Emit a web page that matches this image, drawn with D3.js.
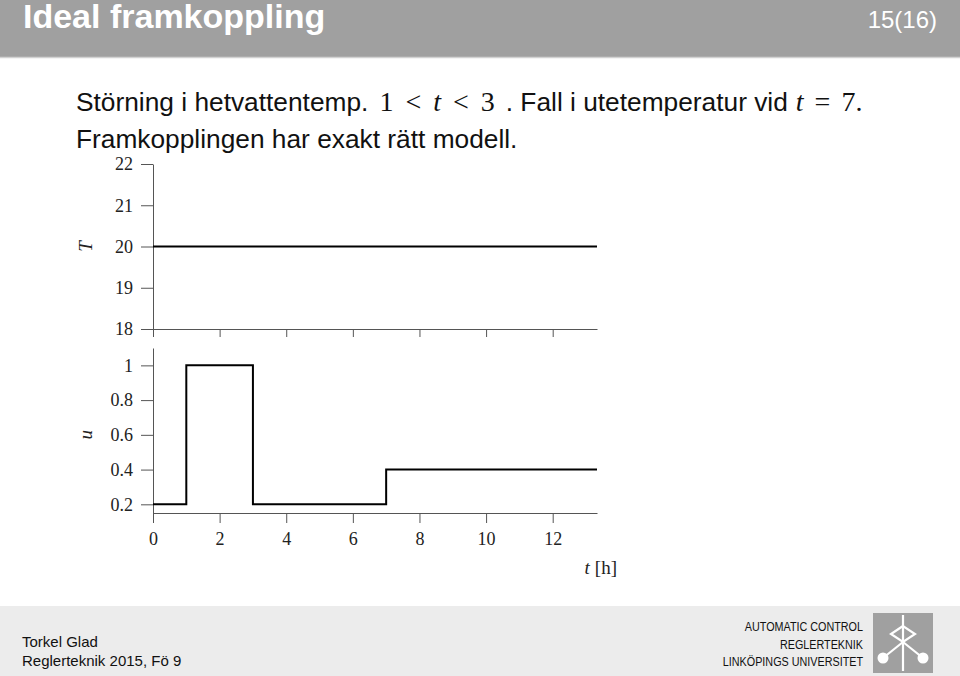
<!DOCTYPE html>
<html>
<head>
<meta charset="utf-8">
<script src="https://cdn.jsdelivr.net/npm/d3@7"></script>
<style>
  body { margin: 0; background: #fff; }
  svg { display: block; }
  .sans { font-family: "Liberation Sans", Arial, sans-serif; }
  .serif { font-family: "Liberation Serif", "Times New Roman", serif; }
  .axis path, .axis line { stroke: #555; stroke-width: 1; }
  .axis text { font-family: "Liberation Serif", serif; font-size: 18px; fill: #222; }
</style>
</head>
<body>
<svg id="chart" width="960" height="676"></svg>
<script>
// time axis (hours)
const tMax = 13.33
const timeTicks = [0, 2, 4, 6, 8, 10, 12]

// upper plot: temperature T
const tempTime = [0, tMax]
const tempValues = [20, 20]
const tempTicks = [18, 19, 20, 21, 22]

// lower plot: control signal u (piecewise constant)
const uTime = [0, 1, 3, 7, tMax]
const uValues = [0.2, 1, 0.2, 0.4, 0.4]
const uTicks = [0.2, 0.4, 0.6, 0.8, 1]

const svg = d3.select('#chart')

// ---- slide frame ----
svg.append('rect').attr('x', 0).attr('y', 0).attr('width', 960).attr('height', 57).attr('fill', '#a0a0a0')
svg.append('line').attr('x1', 0).attr('x2', 960).attr('y1', 57.5).attr('y2', 57.5)
    .attr('stroke', '#d2d2d2').attr('stroke-width', 1.5)
svg.append('text').attr('class', 'sans').attr('x', 23).attr('y', 28)
    .attr('font-size', 34).attr('font-weight', 'bold').attr('fill', '#fff')
    .text('Ideal framkoppling')
svg.append('text').attr('class', 'sans').attr('x', 937).attr('y', 28)
    .attr('font-size', 24).attr('text-anchor', 'end').attr('fill', '#fff')
    .text('15(16)')

svg.append('rect').attr('x', 0).attr('y', 606).attr('width', 960).attr('height', 70).attr('fill', '#ececec')
const foot = svg.append('g').attr('class', 'sans').attr('fill', '#111')
foot.append('text').attr('x', 22).attr('y', 647).attr('font-size', 15).text('Torkel Glad')
foot.append('text').attr('x', 22).attr('y', 666).attr('font-size', 15).text('Reglerteknik 2015, Fö 9')
const orgLines = ['AUTOMATIC CONTROL', 'REGLERTEKNIK', 'LINKÖPINGS UNIVERSITET']
orgLines.forEach((s, i) => {
    foot.append('text').attr('transform', `translate(863,${631 + i * 17.5}) scale(0.83,1)`)
        .attr('font-size', 13).attr('text-anchor', 'end').text(s)
})

// logo
const logo = svg.append('g').attr('transform', 'translate(873,613)')
logo.append('rect').attr('width', 60).attr('height', 60).attr('fill', '#a0a0a0')
const lw = logo.append('g').attr('stroke', '#fff').attr('stroke-width', 2.2).attr('fill', 'none')
lw.append('line').attr('x1', 30).attr('y1', 2).attr('x2', 30).attr('y2', 58)
lw.append('path').attr('d', 'M30,13 L18,21 L30,29 L42,21 Z')
lw.append('line').attr('x1', 30).attr('y1', 29).attr('x2', 10).attr('y2', 45)
lw.append('line').attr('x1', 30).attr('y1', 29).attr('x2', 50).attr('y2', 45)
logo.append('circle').attr('cx', 10).attr('cy', 45).attr('r', 5.5).attr('fill', '#fff')
logo.append('circle').attr('cx', 50).attr('cy', 45).attr('r', 5.5).attr('fill', '#fff')

// ---- description text ----
const line1 = svg.append('text').attr('x', 76).attr('y', 111).attr('fill', '#111')
const mathPart = (dx, s, italic) => line1.append('tspan').attr('class', 'serif').attr('font-size', 28)
    .attr('font-style', italic ? 'italic' : 'normal').attr('dx', dx).text(s)
line1.append('tspan').attr('class', 'sans').attr('font-size', 26.3).text('Störning i hetvattentemp.')
mathPart(11, '1')
mathPart(12, '<')
mathPart(12, 't', true)
mathPart(12, '<')
mathPart(12, '3')
line1.append('tspan').attr('class', 'sans').attr('font-size', 26.3).attr('dx', 11).text('. Fall i utetemperatur vid')
mathPart(8, 't', true)
mathPart(11, '=')
mathPart(11, '7.')

svg.append('text').attr('class', 'sans').attr('x', 76).attr('y', 148)
    .attr('font-size', 26.3).attr('fill', '#111')
    .text('Framkopplingen har exakt rätt modell.')

// ---- scales ----
const x = d3.scaleLinear().domain([0, tMax]).range([153, 597])
const yT = d3.scaleLinear().domain([18, 22]).range([329, 164])
const yU = d3.scaleLinear().domain([0.15, 1.1]).range([513, 348])

// upper axes
svg.append('g').attr('class', 'axis').attr('transform', `translate(${x(0)},0)`)
    .call(d3.axisLeft(yT).tickValues(tempTicks).tickSize(12).tickSizeOuter(0).tickPadding(8).tickFormat(d3.format('d')))
svg.append('g').attr('class', 'axis').attr('transform', `translate(0,${yT(18)})`)
    .call(d3.axisBottom(x).tickValues(timeTicks).tickSize(8).tickSizeOuter(0).tickFormat(''))

// lower axes
svg.append('g').attr('class', 'axis').attr('transform', `translate(${x(0)},0)`)
    .call(d3.axisLeft(yU).tickValues(uTicks).tickSize(12).tickSizeOuter(0).tickPadding(8)
        .tickFormat(d => d === 1 ? '1' : d3.format('.1f')(d)))
svg.append('g').attr('class', 'axis').attr('transform', `translate(0,${yU(0.15)})`)
    .call(d3.axisBottom(x).tickValues(timeTicks).tickSize(10).tickSizeOuter(0).tickPadding(9).tickFormat(d3.format('d')))

// axis labels
svg.append('text').attr('class', 'serif').attr('font-size', 19).attr('font-style', 'italic')
    .attr('text-anchor', 'middle').attr('transform', `translate(92,${yT(20)}) rotate(-90)`)
    .attr('fill', '#222').text('T')
svg.append('text').attr('class', 'serif').attr('font-size', 19).attr('font-style', 'italic')
    .attr('text-anchor', 'middle').attr('transform', `translate(92,${yU(0.6)}) rotate(-90)`)
    .attr('fill', '#222').text('u')
const tl = svg.append('text').attr('class', 'serif').attr('font-size', 19).attr('fill', '#222')
    .attr('text-anchor', 'end').attr('x', 617).attr('y', 574)
tl.append('tspan').attr('font-style', 'italic').text('t')
tl.append('tspan').attr('dx', 5).text('[h]')

// ---- data lines ----
const tempLine = d3.line().x(d => x(d[0])).y(d => yT(d[1]))
svg.append('path')
    .datum(tempTime.map((t, i) => [t, tempValues[i]]))
    .attr('d', tempLine)
    .attr('fill', 'none').attr('stroke', '#000').attr('stroke-width', 2)

const uLine = d3.line().curve(d3.curveStepAfter).x(d => x(d[0])).y(d => yU(d[1]))
svg.append('path')
    .datum(uTime.map((t, i) => [t, uValues[i]]))
    .attr('d', uLine)
    .attr('fill', 'none').attr('stroke', '#000').attr('stroke-width', 2)
</script>
</body>
</html>
